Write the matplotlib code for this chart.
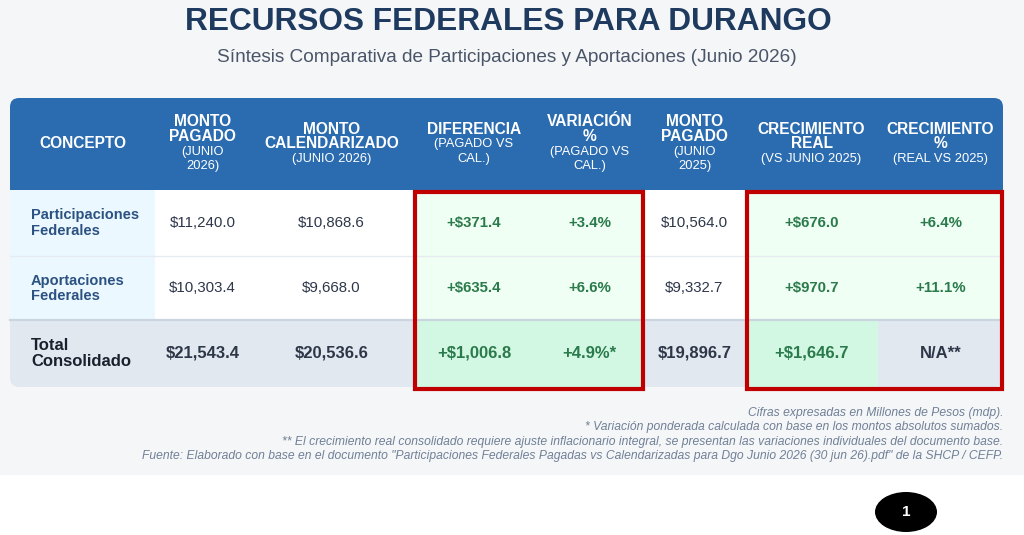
import matplotlib
matplotlib.use("Agg")
import matplotlib.pyplot as plt
from matplotlib.patches import FancyBboxPatch, Rectangle, Ellipse

plt.rcParams['font.family'] = ['Liberation Sans', 'DejaVu Sans']

# ---------------- data ----------------
title = "RECURSOS FEDERALES PARA DURANGO"
subtitle = "Síntesis Comparativa de Participaciones y Aportaciones (Junio 2026)"

header_main = [["CONCEPTO"], ["MONTO", "PAGADO"], ["MONTO", "CALENDARIZADO"],
               ["DIFERENCIA"], ["VARIACIÓN", "%"], ["MONTO", "PAGADO"],
               ["CRECIMIENTO", "REAL"], ["CRECIMIENTO", "%"]]
header_sub = [[], ["(JUNIO", "2026)"], ["(JUNIO 2026)"],
              ["(PAGADO VS", "CAL.)"], ["(PAGADO VS", "CAL.)"], ["(JUNIO", "2025)"],
              ["(VS JUNIO 2025)"], ["(REAL VS 2025)"]]

conceptos = [["Participaciones", "Federales"], ["Aportaciones", "Federales"],
             ["Total", "Consolidado"]]
pagado_2026 = [11240.0, 10303.4, 21543.4]
calendarizado_2026 = [10868.6, 9668.0, 20536.6]
diferencia = [371.4, 635.4, 1006.8]
variacion_pct = [3.4, 6.6, 4.9]
variacion_marca = ["", "", "*"]
pagado_2025 = [10564.0, 9332.7, 19896.7]
crecimiento_real = [676.0, 970.7, 1646.7]
crecimiento_pct = [6.4, 11.1, None]
na_label = "N/A**"

footnotes = [
    "Cifras expresadas en Millones de Pesos (mdp).",
    "* Variación ponderada calculada con base en los montos absolutos sumados.",
    "** El crecimiento real consolidado requiere ajuste inflacionario integral, se presentan las variaciones individuales del documento base.",
    "Fuente: Elaborado con base en el documento \"Participaciones Federales Pagadas vs Calendarizadas para Dgo Junio 2026 (30 jun 26).pdf\" de la SHCP / CEFP.",
]
page_number = "1"

# ---------------- layout / style ----------------
W, H = 1024, 535
col_edges = [10, 155, 250, 413, 535, 644, 745, 878, 1003]
row_edges = [98, 190, 256, 320, 387]
green_cols = {3, 4, 6, 7}
total_green_cols = {3, 4, 6}
red_groups = [(3, 4), (6, 7)]

C_PAGE = '#f4f6f8'
C_HEAD = '#2b6cb0'
C_TITLE = '#1e3a5f'
C_SUB = '#4a5568'
C_CONCEPT_BG = '#ebf8ff'
C_CONCEPT_TX = '#2c5282'
C_TOTAL_BG = '#e2e8f0'
C_GREEN_BG = '#f0fff4'
C_GREEN_BG_T = '#d2f7e3'
C_GREEN_TX = '#2a7a4b'
C_TEXT = '#2d3748'
C_RED = '#c00000'
C_NOTE = '#718096'

fig = plt.figure(figsize=(W / 100, H / 100), dpi=100)
fig.patch.set_facecolor('white')
ax = fig.add_axes([0, 0, 1, 1])
ax.set_xlim(0, W)
ax.set_ylim(H, 0)
ax.axis('off')

ax.add_patch(Rectangle((0, 0), W, 475, facecolor=C_PAGE, edgecolor='none', zorder=0))

ax.text(W / 2 - 4, 21.5, title, ha='center', va='center', fontsize=22.8,
        fontweight='bold', color=C_TITLE)
ax.text(W / 2 - 5, 57.5, subtitle, ha='center', va='center', fontsize=13.7, color=C_SUB)

tx0, tx1 = col_edges[0], col_edges[-1]
ty0, ty1 = row_edges[0], row_edges[-1]
clip = FancyBboxPatch((tx0, ty0), tx1 - tx0, ty1 - ty0,
                      boxstyle="round,pad=0,rounding_size=9",
                      facecolor='white', edgecolor='none', zorder=1)
ax.add_patch(clip)


def cell(x0, y0, x1, y1, color, z=2):
    r = Rectangle((x0, y0), x1 - x0, y1 - y0, facecolor=color, edgecolor='none', zorder=z)
    ax.add_patch(r)
    r.set_clip_path(clip)
    return r


# header
cell(tx0, row_edges[0], tx1, row_edges[1], C_HEAD)
hy = (row_edges[0] + row_edges[1]) / 2
for c in range(len(header_main)):
    cx = (col_edges[c] + col_edges[c + 1]) / 2
    lines = [(t, True) for t in header_main[c]] + [(t, False) for t in header_sub[c]]
    n = len(lines)
    for i, (t, bold) in enumerate(lines):
        y = hy - (n - 1) * 15 / 2 + i * 15
        ax.text(cx, y, t, ha='center', va='center', color='white', zorder=5,
                fontsize=11.2 if bold else 9.3, fontweight='bold' if bold else 'normal')

# body
nrows = len(conceptos)
for r in range(nrows):
    is_total = r == nrows - 1
    y0, y1 = row_edges[r + 1], row_edges[r + 2]
    cy = (y0 + y1) / 2
    for c in range(len(col_edges) - 1):
        if is_total:
            bg = C_GREEN_BG_T if c in total_green_cols else C_TOTAL_BG
        elif c == 0:
            bg = C_CONCEPT_BG
        elif c in green_cols:
            bg = C_GREEN_BG
        else:
            bg = 'white'
        cell(col_edges[c], y0, col_edges[c + 1], y1, bg)

    # concept
    for i, t in enumerate(conceptos[r]):
        ax.text(31, cy - 7.5 + i * 15.5, t, ha='left', va='center', zorder=5,
                fontsize=12 if is_total else 10.5, fontweight='bold',
                color='#1a202c' if is_total else C_CONCEPT_TX)

    cp = crecimiento_pct[r]
    vals = [f"${pagado_2026[r]:,.1f}", f"${calendarizado_2026[r]:,.1f}",
            f"+${diferencia[r]:,.1f}", f"+{variacion_pct[r]:.1f}%{variacion_marca[r]}",
            f"${pagado_2025[r]:,.1f}", f"+${crecimiento_real[r]:,.1f}",
            na_label if cp is None else f"+{cp:.1f}%"]
    for j, v in enumerate(vals):
        c = j + 1
        cx = (col_edges[c] + col_edges[c + 1]) / 2
        green = c in green_cols and not (v == na_label)
        if is_total:
            fs, fw = 12, 'bold'
        elif green:
            fs, fw = 10.8, 'bold'
        else:
            fs, fw = 10.8, 'normal'
        ax.text(cx, cy, v, ha='center', va='center', zorder=5, fontsize=fs,
                fontweight=fw, color=C_GREEN_TX if green else C_TEXT)

# separators
ax.plot([tx0, tx1], [row_edges[2], row_edges[2]], color='#e6ebf1', lw=1, zorder=3)
ax.plot([tx0, tx1], [row_edges[3], row_edges[3]], color='#cbd5e0', lw=1.6, zorder=3)

# red highlight boxes
for a, b in red_groups:
    x0 = col_edges[a] + 1.5
    x1 = col_edges[b + 1] - 1.5
    ax.add_patch(Rectangle((x0, row_edges[1] + 1.5), x1 - x0, ty1 - row_edges[1] + 0.5,
                           facecolor='none', edgecolor=C_RED, lw=3, zorder=6))

# footnotes
for i, t in enumerate(footnotes):
    ax.text(1003, 413 + i * 14.4, t, ha='right', va='center', fontsize=8.7,
            style='italic', color=C_NOTE)

# page badge
ax.add_patch(Ellipse((906, 512), 62, 40, facecolor='black', edgecolor='none', zorder=5))
ax.text(906, 512, page_number, ha='center', va='center', color='white',
        fontsize=11, fontweight='bold', zorder=6)

fig.savefig('out.png', dpi=100, facecolor=fig.get_facecolor())
